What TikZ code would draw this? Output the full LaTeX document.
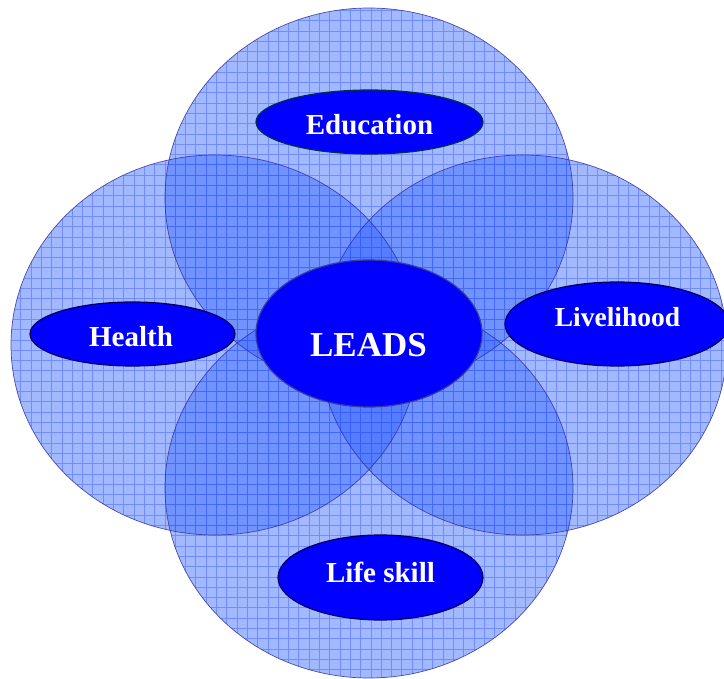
\documentclass[tikz,border=0pt]{standalone}
\usepackage{fontspec}
\setmainfont{Liberation Serif}
\usetikzlibrary{shapes.geometric}
\definecolor{circfill}{RGB}{50,100,255}
\definecolor{circline}{RGB}{51,51,153}
\definecolor{gridcol}{RGB}{50,85,255}
\definecolor{blobfill}{RGB}{0,0,255}
\definecolor{blobline}{RGB}{0,0,90}
\definecolor{eduline}{RGB}{0,50,70}
\definecolor{leadsline}{RGB}{60,60,150}
\tikzset{
  bigcirc/.style={fill=circfill, fill opacity=0.45},
  bigedge/.style={draw=circline, line width=0.7pt, draw opacity=0.85},
  gridlines/.style={draw=gridcol, line width=0.6pt, opacity=0.45},
  blob/.style={ellipse, fill=blobfill, draw=blobline, line width=1.2pt, inner sep=0pt},
  lab/.style={text=white, font=\fontsize{29}{34}\selectfont\bfseries, inner sep=0pt},
  biglab/.style={text=white, font=\fontsize{35}{40}\selectfont\bfseries, inner sep=0pt},
}
\begin{document}
\begin{tikzpicture}[x=1pt,y=-1pt]
\useasboundingbox (0,0) rectangle (724,679);
% big overlapping circles with grid texture
\foreach \cx/\cy in {369/198, 215/345, 523/345, 369/488} {
  \begin{scope}
    \clip (\cx,\cy) ellipse [x radius=204pt, y radius=190pt];
    \fill[bigcirc] (0,0) rectangle (724,679);
    \draw[gridlines, step=10.3pt] (0,679) grid (724,0);
  \end{scope}
}
\foreach \cx/\cy in {369/198, 215/345, 523/345, 369/488} {
  \draw[bigedge] (\cx,\cy) ellipse [x radius=204pt, y radius=190pt];
}
% topic ellipses
\node[blob, draw=eduline, minimum width=227pt, minimum height=64pt] (edu) at (369.5,122) {};
\node[lab] (edut) at (369.5,125) {Education};
\node[blob, minimum width=205pt, minimum height=64pt] (hea) at (132.5,334) {};
\node[lab] (heat) at (131,337) {Health};
\node[blob, minimum width=224pt, minimum height=84pt] (liv) at (617,324) {};
\node[lab, font=\fontsize{27.5}{32}\selectfont\bfseries] (livt) at (617.5,317) {Livelihood};
\node[blob, minimum width=205pt, minimum height=85pt] (lif) at (380.5,577.5) {};
\node[lab] (lift) at (380.5,572.5) {Life skill};
\node[blob, draw=leadsline, minimum width=226pt, minimum height=147pt] (lea) at (369,333.5) {};
\node[biglab] (leat) at (368.5,345) {LEADS};
\end{tikzpicture}
\end{document}
